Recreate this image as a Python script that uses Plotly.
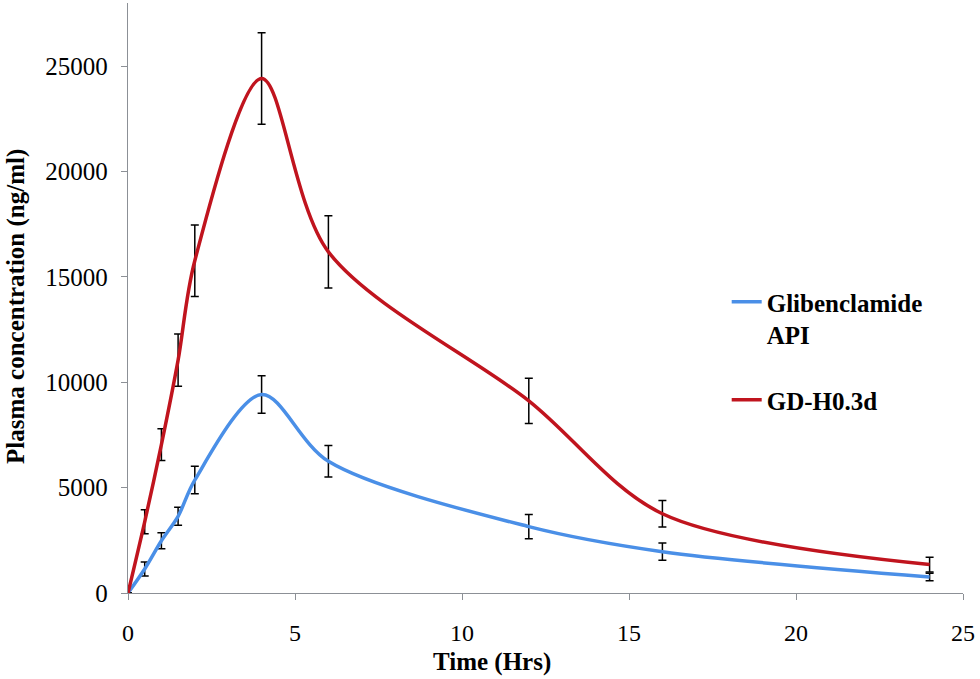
import plotly.graph_objects as go

time_hrs = [0, 0.5, 1, 1.5, 2, 4, 6, 12, 16, 24]
api_conc = [0, 1140, 2480, 3640, 5360, 9420, 6250, 3150, 1960, 760]
api_err = [0, 330, 380, 430, 650, 890, 750, 570, 410, 180]
gd_conc = [0, 3380, 7040, 11050, 15770, 24420, 16190, 9120, 3760, 1350]
gd_err = [0, 570, 750, 1240, 1700, 2170, 1710, 1070, 630, 350]

series_names = ["Glibenclamide<br>API", "GD-H0.3d"]
series_colors = ["#4A8FE7", "#C0141E"]
x_ticks = [0, 5, 10, 15, 20, 25]
y_ticks = [0, 5000, 10000, 15000, 20000, 25000]

font_family = "Liberation Serif, Times New Roman, serif"

fig = go.Figure()
for name, y, err, col, grp in [
    (series_names[0], api_conc, api_err, series_colors[0], "a"),
    (series_names[1], gd_conc, gd_err, series_colors[1], "b"),
]:
    fig.add_trace(go.Scatter(
        x=time_hrs, y=y, name=name, mode="lines", legendgroup=grp,
        line=dict(color=col, width=3.5, shape="spline", smoothing=0.9),
        error_y=dict(type="data", array=err, visible=True, color="black",
                     thickness=1.5, width=4),
    ))

fig.update_layout(
    width=980, height=679,
    paper_bgcolor="white", plot_bgcolor="white",
    margin=dict(l=128, r=17, t=3, b=86),
    font=dict(family=font_family, size=24, color="black"),
    showlegend=True,
    legend=dict(
        x=0.717, y=0.532, xanchor="left", yanchor="top", valign="top",
        font=dict(family=font_family, size=25, color="black", weight="bold"),
        bgcolor="rgba(0,0,0,0)", tracegroupgap=30,
        itemwidth=30,
    ),
    xaxis=dict(
        range=[0, 25], tickvals=x_ticks, showgrid=False, zeroline=False,
        showline=True, linecolor="#8C9096", linewidth=1.3,
        ticks="outside", ticklen=6, tickcolor="#8C9096",
        tickfont=dict(family=font_family, size=24), ticklabelstandoff=12,
    ),
    yaxis=dict(
        range=[0, 28000], tickvals=y_ticks, tickformat="d",
        showgrid=False, zeroline=False,
        showline=True, linecolor="#8C9096", linewidth=1.3,
        ticks="outside", ticklen=6, tickcolor="#8C9096",
        tickfont=dict(family=font_family, size=25), ticklabelstandoff=8,
    ),
    annotations=[
        dict(text="<b>Time (Hrs)</b>", xref="paper", yref="paper",
             x=0.436, y=-0.117, xanchor="center", yanchor="middle",
             showarrow=False, font=dict(family=font_family, size=25)),
        dict(text="<b>Plasma concentration (ng/ml)</b>", xref="paper", yref="paper",
             x=-0.134, y=0.485, xanchor="center", yanchor="middle", textangle=-90,
             showarrow=False, font=dict(family=font_family, size=25)),
    ],
)

fig.write_html("out.html", config={"displayModeBar": False},
               post_script="document.body.style.margin='0px';")
